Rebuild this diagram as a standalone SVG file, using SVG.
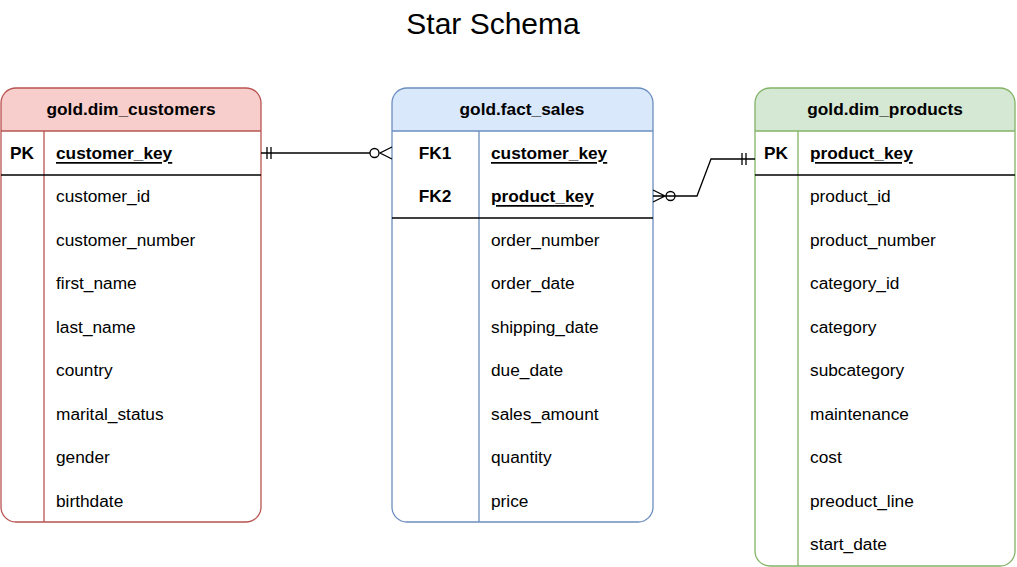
<svg xmlns="http://www.w3.org/2000/svg" width="1017" height="567" viewBox="0 0 1017 567">
<style>
text{font-family:"Liberation Sans",Arial,sans-serif;font-size:17.3px;fill:#000;dominant-baseline:central}
.h{font-weight:bold;text-anchor:middle}
.kc{font-weight:bold;text-anchor:middle}
.u{font-weight:bold;text-decoration:underline}
.sep{stroke:#000;stroke-width:1.3}
.conn{fill:none;stroke:#000;stroke-width:1.3}
</style>
<rect width="1017" height="567" fill="#fff"/>
<text x="493" y="23" style="font-size:30px;text-anchor:middle">Star Schema</text>

<g id="dim_customers">
<path d="M1,131 V103 Q1,88 16,88 H246 Q261,88 261,103 V131 Z" fill="#f8cecc"/>
<rect x="1" y="88" width="260" height="434" rx="15" fill="none" stroke="#b85450" stroke-width="1.3"/>
<line x1="1" y1="131" x2="261" y2="131" stroke="#b85450" stroke-width="1.3"/>
<line x1="44" y1="131" x2="44" y2="522" stroke="#b85450" stroke-width="1.3"/>
<line class="sep" x1="1" y1="175" x2="261" y2="175"/>
<text class="h" x="131" y="109">gold.dim_customers</text>
<text class="kc" x="22" y="153">PK</text>
<text class="u" x="56" y="153">customer_key</text>
<text x="56" y="196">customer_id</text>
<text x="56" y="240">customer_number</text>
<text x="56" y="283">first_name</text>
<text x="56" y="327">last_name</text>
<text x="56" y="370">country</text>
<text x="56" y="414">marital_status</text>
<text x="56" y="457">gender</text>
<text x="56" y="501">birthdate</text>
</g>

<g id="fact_sales">
<path d="M392,131 V103 Q392,88 407,88 H638 Q653,88 653,103 V131 Z" fill="#dae8fc"/>
<rect x="392" y="88" width="261" height="434" rx="15" fill="none" stroke="#6c8ebf" stroke-width="1.3"/>
<line x1="392" y1="131" x2="653" y2="131" stroke="#6c8ebf" stroke-width="1.3"/>
<line x1="479" y1="131" x2="479" y2="522" stroke="#6c8ebf" stroke-width="1.3"/>
<line class="sep" x1="392" y1="218" x2="653" y2="218"/>
<text class="h" x="522" y="109">gold.fact_sales</text>
<text class="kc" x="435" y="153">FK1</text>
<text class="u" x="491" y="153">customer_key</text>
<text class="kc" x="435" y="196">FK2</text>
<text class="u" x="491" y="196">product_key</text>
<text x="491" y="240">order_number</text>
<text x="491" y="283">order_date</text>
<text x="491" y="327">shipping_date</text>
<text x="491" y="370">due_date</text>
<text x="491" y="414">sales_amount</text>
<text x="491" y="457">quantity</text>
<text x="491" y="501">price</text>
</g>

<g id="dim_products">
<path d="M755,131 V103 Q755,88 770,88 H1000 Q1015,88 1015,103 V131 Z" fill="#d5e8d4"/>
<rect x="755" y="88" width="260" height="478" rx="15" fill="none" stroke="#82b366" stroke-width="1.3"/>
<line x1="755" y1="131" x2="1015" y2="131" stroke="#82b366" stroke-width="1.3"/>
<line x1="798" y1="131" x2="798" y2="566" stroke="#82b366" stroke-width="1.3"/>
<line class="sep" x1="755" y1="175" x2="1015" y2="175"/>
<text class="h" x="885" y="109">gold.dim_products</text>
<text class="kc" x="776" y="153">PK</text>
<text class="u" x="810" y="153">product_key</text>
<text x="810" y="196">product_id</text>
<text x="810" y="240">product_number</text>
<text x="810" y="283">category_id</text>
<text x="810" y="327">category</text>
<text x="810" y="370">subcategory</text>
<text x="810" y="414">maintenance</text>
<text x="810" y="457">cost</text>
<text x="810" y="501">preoduct_line</text>
<text x="810" y="544">start_date</text>
</g>

<g id="connectors">
<path class="conn" d="M261,153 H370"/>
<path class="conn" d="M267,147 V159 M271,147 V159"/>
<circle class="conn" cx="374.5" cy="153" r="4.5" fill="#fff"/>
<path class="conn" d="M392,147 L380,153 L392,159"/>
<path class="conn" d="M666,196 H697 L711,159 H755"/>
<path class="conn" d="M742,153 V165 M746,153 V165"/>
<circle class="conn" cx="670.5" cy="196" r="4.5" fill="#fff"/>
<path class="conn" d="M653,190 L665,196 L653,202 M653,196 H666"/>
</g>
</svg>
